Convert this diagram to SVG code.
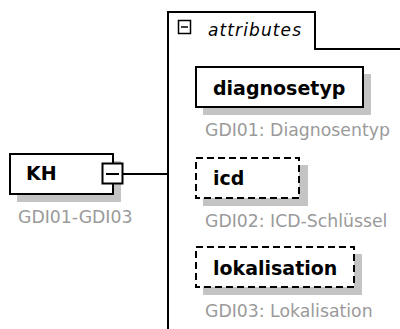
<svg xmlns="http://www.w3.org/2000/svg" width="400" height="329" viewBox="0 0 400 329">
<style>
.shadow{fill:#c4c4c4;stroke:none}
.box{fill:#ffffff;stroke:#000000;stroke-width:2}
.opt{stroke-dasharray:7 4}
.name{font-family:"DejaVu Sans",Verdana,sans-serif;font-weight:bold;font-size:19px;fill:#000000}
.note{font-family:"DejaVu Sans",Verdana,sans-serif;font-size:17.3px;fill:#9a9a9a}
.line{fill:none;stroke:#000000;stroke-width:2}
</style>
<rect width="400" height="329" fill="#ffffff"/>
<g id="attributes">
<path class="line" d="M168,329 V12 H315 V49 H400"/>
<rect x="178.5" y="20.5" width="12" height="13" fill="#ffffff" stroke="#000000" stroke-width="1.5"/>
<line x1="181" y1="27" x2="188" y2="27" stroke="#000000" stroke-width="1.5"/>
<text x="208" y="36" font-family="'DejaVu Sans',Verdana,sans-serif" font-style="italic" font-size="17" textLength="93" fill="#000000">attributes</text>
</g>
<g id="connectors">
<line class="line" x1="122" y1="174" x2="168" y2="174"/>
</g>
<g id="KH">
<rect class="shadow" x="17" y="161" width="104" height="41"/>
<rect class="box" x="10" y="154" width="103" height="40"/>
<text class="name" x="26" y="180">KH</text>
<rect x="102.5" y="163.5" width="20" height="20" fill="#ffffff" stroke="#000000" stroke-width="2"/>
<line x1="106" y1="174" x2="119" y2="174" stroke="#000000" stroke-width="2"/>
<text class="note" x="18" y="223">GDI01-GDI03</text>
</g>
<g id="diagnosetyp">
<rect class="shadow" x="203" y="74" width="168" height="41"/>
<rect class="box" x="196" y="67" width="167" height="40"/>
<text class="name" x="213" y="95">diagnosetyp</text>
<text class="note" x="205" y="136">GDI01: Diagnosentyp</text>
</g>
<g id="icd">
<rect class="shadow" x="203" y="165" width="105" height="41"/>
<rect class="box opt" x="196" y="158" width="103" height="40"/>
<text class="name" x="213" y="185">icd</text>
<text class="note" x="205" y="227">GDI02: ICD-Schlüssel</text>
</g>
<g id="lokalisation">
<rect class="shadow" x="203" y="254" width="159" height="41"/>
<rect class="box opt" x="196" y="247" width="158" height="40"/>
<text class="name" x="213" y="275">lokalisation</text>
<text class="note" x="205" y="317">GDI03: Lokalisation</text>
</g>
</svg>
